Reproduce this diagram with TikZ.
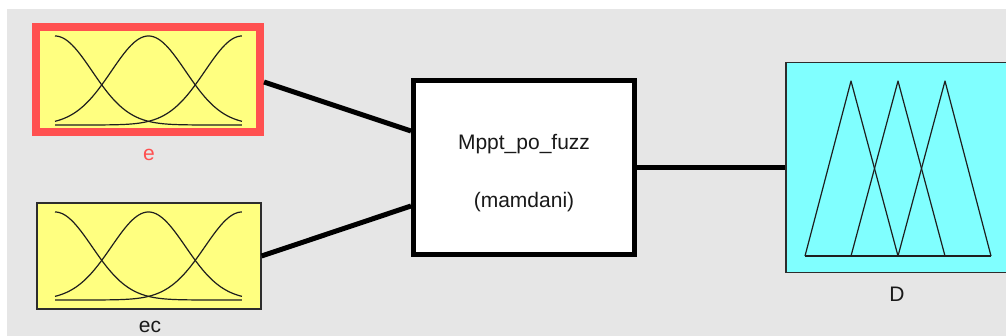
\documentclass[tikz,border=0pt]{standalone}
\usepackage{fontspec}
\setmainfont{Liberation Sans}
\usetikzlibrary{calc}
\definecolor{bg}{RGB}{230,230,230}
\definecolor{selred}{RGB}{255,80,80}
\definecolor{mfyellow}{RGB}{255,255,128}
\definecolor{mfcyan}{RGB}{128,255,255}
\definecolor{boxedge}{RGB}{45,45,45}
\definecolor{mfline}{RGB}{30,30,30}
\definecolor{txt}{RGB}{25,25,25}
\begin{document}
\begin{tikzpicture}[x=1pt,y=-1pt,
  inbox/.style={draw=boxedge, line width=1.2pt, fill=mfyellow, minimum width=224pt, minimum height=106pt, inner sep=0pt},
  selbox/.style={inbox, draw=selred, line width=8pt, minimum height=105pt},
  fisbox/.style={draw=black, line width=5pt, fill=white, minimum width=221pt, minimum height=174pt, inner sep=0pt},
  outbox/.style={draw=boxedge, line width=1.2pt, fill=mfcyan, minimum width=226pt, minimum height=210pt, inner sep=0pt},
  wire/.style={line width=5pt, draw=black},
  mf/.style={line width=1.2pt, draw=mfline},
  lbl/.style={font=\fontsize{21}{25}\selectfont, anchor=base, inner sep=0pt, text=txt}]
\useasboundingbox (0,0) rectangle (1006,336);
\fill[bg] (7,9) rectangle (1006,336);

% boxes
\node[selbox] (e) at (148,79.5) {};
\node[inbox] (ec) at (149,256) {};
\node[fisbox] (fis) at (524,167.5) {};
\node[outbox] (D) at (899,167.5) {};

% labels
\node[lbl, text=selred] (elbl) at (149,161) {e};
\node[lbl] (eclbl) at (150,332.5) {ec};
\node[lbl] (Dlbl) at (897,302) {D};
\node[lbl] (fisname) at (524,150) {Mppt\_po\_fuzz};
\node[lbl] (fistype) at (524,208) {(mamdani)};

% gaussian membership functions
\begin{scope}[shift={(55,125)}, x=187pt, y=89pt]
  \foreach \c in {0,0.5,1}
    \draw[mf] plot[domain=0:1, samples=90, smooth] (\x, {exp(-(\x-\c)^2/0.0784)});
\end{scope}
\begin{scope}[shift={(55,300)}, x=187pt, y=88pt]
  \foreach \c in {0,0.5,1}
    \draw[mf] plot[domain=0:1, samples=90, smooth] (\x, {exp(-(\x-\c)^2/0.0784)});
\end{scope}

% triangular membership functions
\draw[mf, line join=round] (805,256) -- (851,81) -- (898,256);
\draw[mf, line join=round] (851,256) -- (898,81) -- (945,256);
\draw[mf, line join=round] (898,256) -- (945,81) -- (991,256);
\draw[mf] (805,256) -- (991,256);

% connectors
\draw[wire] ([yshift=-2.5pt]e.east) -- ([yshift=36.5pt]fis.west);
\draw[wire] (ec.east) -- ([yshift=-38.5pt]fis.west);
\draw[wire] (fis.east) -- (D.west);
\end{tikzpicture}
\end{document}
